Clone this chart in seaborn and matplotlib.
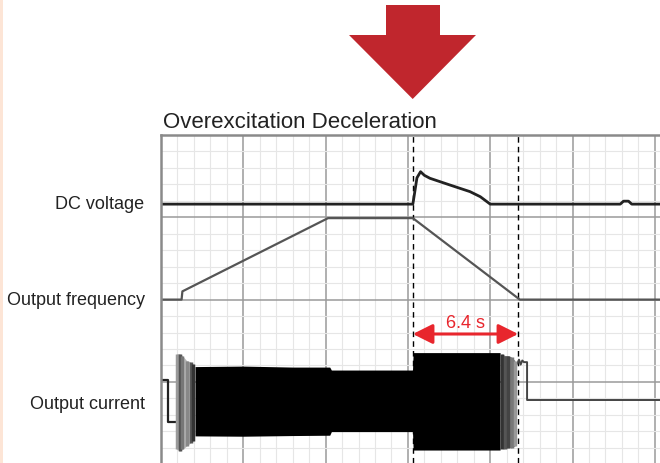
import numpy as np
import seaborn as sns
import matplotlib.pyplot as plt
from matplotlib.patches import Polygon
from matplotlib.ticker import MultipleLocator

sns.set_style("white")
plt.rcParams['font.family'] = ['Liberation Sans', 'DejaVu Sans']

# time in seconds (1 minor division = 1 s), level in divisions
dc_t = [0, 15.3, 15.38, 15.55, 15.77, 16.0, 16.34, 17.56, 18.77, 19.4, 20.0, 27.9, 28.1, 28.4, 28.6, 30.4]
dc_v = [15.8, 15.8, 16.3, 17.4, 17.77, 17.55, 17.37, 16.96, 16.56, 16.25, 15.8, 15.8, 15.98, 15.98, 15.8, 15.8]

freq_t = [0, 1.25, 1.3, 10.15, 15.3, 21.8, 30.4]
freq_v = [10.0, 10.0, 10.5, 14.95, 14.95, 10.0, 10.0]

# output current: line parts before and after the AC burst
cur_pre_t = [0, 0.43, 0.43, 0.97]
cur_pre_v = [5.12, 5.12, 2.58, 2.58]
cur_post_t = [21.65, 21.75, 21.85, 21.95, 22.05, 22.24, 22.24, 30.4]
cur_post_v = [6.1, 6.35, 6.05, 6.3, 6.2, 6.2, 3.9, 3.9]

# envelope of the AC current burst
env_t = [2.07, 5.0, 8.0, 10.25, 10.35, 15.28, 15.32, 20.6]
env_top = [5.93, 5.96, 5.9, 5.9, 5.72, 5.72, 6.78, 6.78]
env_bot = [1.72, 1.7, 1.74, 1.76, 1.98, 1.98, 0.86, 0.86]

# faded edges of the burst
fringe_t = [0.95, 1.15, 1.3, 1.55, 1.8, 1.95, 20.7, 20.9, 21.1, 21.3, 21.5]
fringe_top = [6.7, 6.7, 6.6, 6.3, 6.2, 6.1, 6.7, 6.6, 6.6, 6.5, 6.3]
fringe_bot = [0.9, 0.8, 0.9, 1.1, 1.3, 1.4, 0.95, 0.95, 1.0, 1.0, 1.1]
fringe_gray = ['#9a9a9a', '#555555', '#777777', '#888888', '#555555', '#333333',
               '#333333', '#555555', '#444444', '#777777', '#999999']

cursor_t = [15.3, 21.7]
span_label = '6.4 s'
labels = ['DC voltage', 'Output frequency', 'Output current']
label_y = [15.8, 9.95, 3.6]

fig = plt.figure(figsize=(6.6, 4.63), dpi=100)
ax = fig.add_axes([161 / 660, 0, 499 / 660, 328 / 463])
ax.set_xlim(0, 499 / 16.46)
ax.set_ylim(20 - 328 / 16.46, 20)

# chart-recorder grid
ax.xaxis.set_major_locator(MultipleLocator(5))
ax.xaxis.set_minor_locator(MultipleLocator(1))
ax.yaxis.set_major_locator(MultipleLocator(5))
ax.yaxis.set_minor_locator(MultipleLocator(1))
ax.grid(which='minor', color='#e6e6e6', lw=0.8)
ax.grid(which='major', color='#9a9a9a', lw=1.1)
ax.set_axisbelow(True)
ax.tick_params(which='both', length=0, labelbottom=False, labelleft=False)
for side in ['right', 'bottom']:
    ax.spines[side].set_visible(False)
for side in ['top', 'left']:
    ax.spines[side].set_color('#8a8a8a')
    ax.spines[side].set_linewidth(1.8)

for t in cursor_t:
    ax.axvline(t, color='black', ls=(0, (4, 3)), lw=1.0, zorder=2)

sns.lineplot(x=dc_t, y=dc_v, color='#222222', lw=2.0, estimator=None, sort=False, ax=ax)
sns.lineplot(x=freq_t, y=freq_v, color='#555555', lw=1.6, estimator=None, sort=False, ax=ax)
sns.lineplot(x=cur_pre_t, y=cur_pre_v, color='#222222', lw=1.6, estimator=None, sort=False, ax=ax)
sns.lineplot(x=cur_post_t, y=cur_post_v, color='#444444', lw=1.4, estimator=None, sort=False, ax=ax)

ax.fill_between(fringe_t[:6], fringe_top[:6], fringe_bot[:6], color='#b5b5b5', lw=0, zorder=3)
ax.fill_between(fringe_t[6:], fringe_top[6:], fringe_bot[6:], color='#7a7a7a', lw=0, zorder=3)
ax.vlines(fringe_t, fringe_bot, fringe_top, colors=fringe_gray, lw=2.5, zorder=3)
ax.fill_between(env_t, env_top, env_bot, color='black', lw=0, zorder=4)

# 6.4 s span
red = '#e8262d'
ax.annotate('', xy=(cursor_t[0], 7.91), xytext=(cursor_t[1], 7.91),
            arrowprops=dict(arrowstyle='<|-|>', color=red, lw=2.2,
                            mutation_scale=30, shrinkA=0, shrinkB=0), zorder=5)
ax.text(np.mean(cursor_t), 8.55, span_label, color=red, fontsize=13,
        ha='center', va='center')

for lab, y in zip(labels, label_y):
    ax.text(-1.0, y, lab, fontsize=13, ha='right', va='center', color='#222222',
            clip_on=False)

fig.text(163 / 660, 1 - 128 / 463, 'Overexcitation Deceleration', fontsize=16,
         color='#222222', ha='left', va='baseline')

# big red arrow above the plot
arrow_px = [(386, 5), (440, 5), (440, 35), (476, 35), (412.7, 99), (349, 35), (386, 35)]
fig.patches.append(Polygon([(x / 660, 1 - y / 463) for x, y in arrow_px], closed=True,
                           transform=fig.transFigure, color='#c0262d', lw=0))
# thin page-edge band on the left
fig.patches.append(Polygon([(0, 0), (2.5 / 660, 0), (2.5 / 660, 1), (0, 1)], closed=True,
                           transform=fig.transFigure, color='#fde5d6', lw=0))

fig.savefig('out.png', dpi=100)
